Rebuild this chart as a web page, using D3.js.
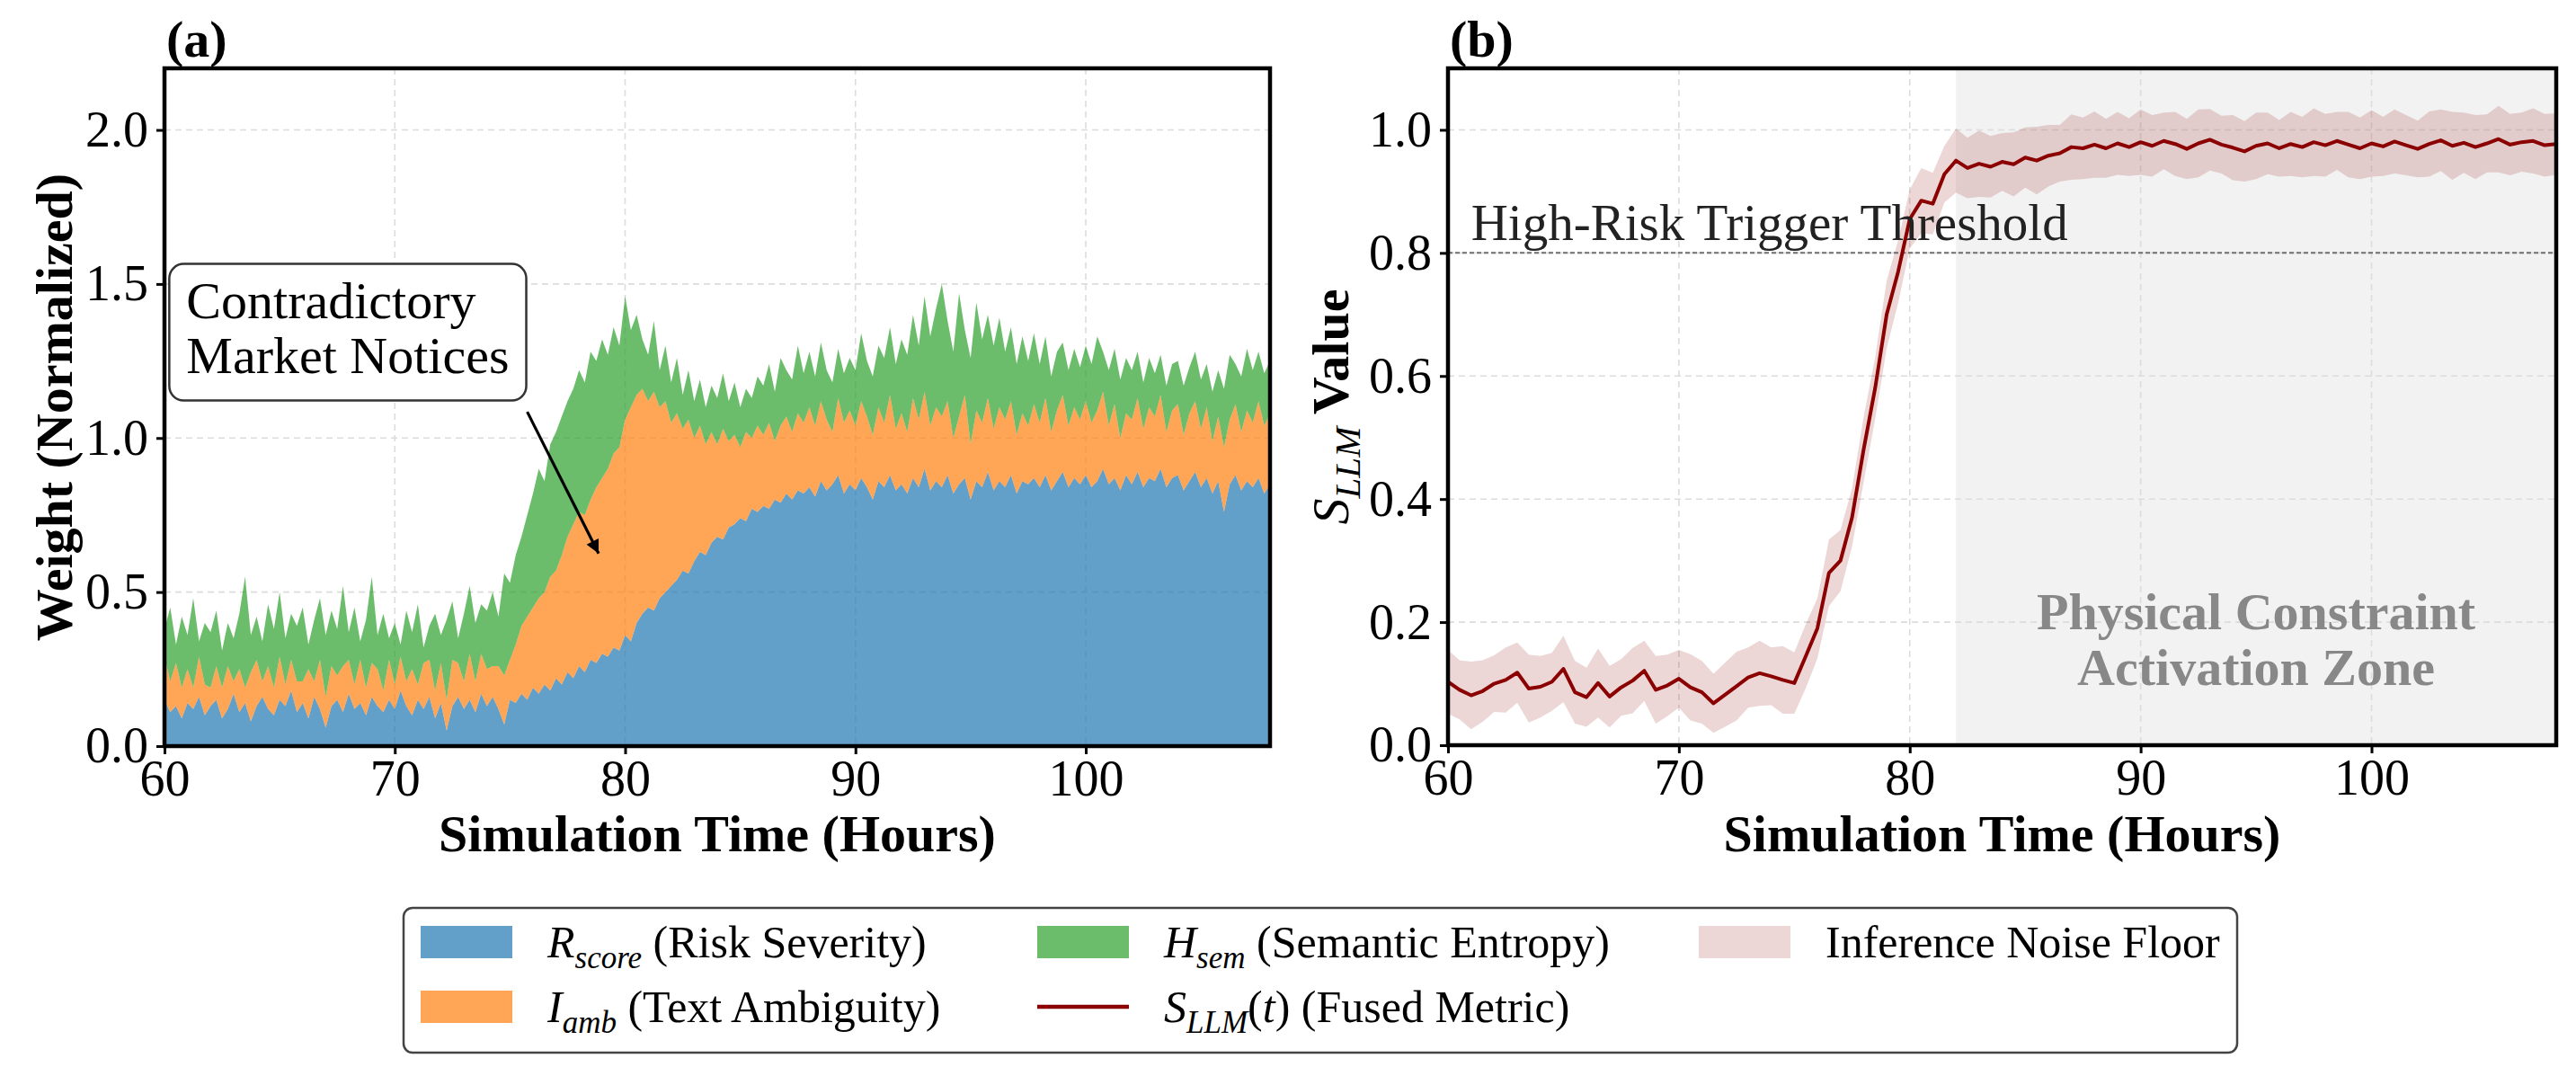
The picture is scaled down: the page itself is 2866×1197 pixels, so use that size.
<!DOCTYPE html>
<html>
<head>
<meta charset="utf-8">
<script src="https://cdn.jsdelivr.net/npm/d3@7"></script>
<style>
  body { margin: 0; background: #fff; }
  svg text { font-family: "Liberation Serif", "Times New Roman", serif; white-space: pre; }
</style>
</head>
<body>
<svg id="fig" width="2866" height="1197"></svg>
<script>
// ---- data ----
// panel (a): sampled every 0.25 h from 60 to 108
const hoursA = d3.range(193).map(i => 60 + i * 0.25);

const riskScore = [
  0.15,0.11,0.13,0.09,0.14,0.12,0.16,0.10,
  0.13,0.15,0.09,0.12,0.17,0.11,0.14,0.08,
  0.13,0.16,0.12,0.10,0.15,0.13,0.18,0.11,
  0.14,0.09,0.16,0.12,0.06,0.13,0.15,0.11,
  0.17,0.12,0.14,0.10,0.16,0.13,0.11,0.15,
  0.12,0.18,0.13,0.10,0.15,0.12,0.16,0.09,
  0.14,0.05,0.13,0.16,0.12,0.15,0.11,0.17,
  0.13,0.16,0.12,0.07,0.15,0.14,0.17,0.15,
  0.19,0.17,0.20,0.18,0.22,0.20,0.24,0.22,
  0.26,0.24,0.28,0.27,0.30,0.29,0.32,0.31,
  0.36,0.34,0.40,0.43,0.45,0.44,0.48,0.50,
  0.52,0.54,0.57,0.56,0.60,0.63,0.62,0.66,
  0.68,0.67,0.71,0.72,0.74,0.73,0.77,0.76,
  0.78,0.77,0.80,0.79,0.82,0.80,0.83,0.82,
  0.84,0.81,0.86,0.83,0.85,0.88,0.82,0.85,
  0.83,0.87,0.84,0.80,0.86,0.84,0.88,0.83,
  0.85,0.82,0.87,0.84,0.90,0.83,0.86,0.84,
  0.88,0.82,0.85,0.87,0.80,0.86,0.84,0.89,
  0.83,0.86,0.84,0.88,0.82,0.86,0.85,0.87,
  0.84,0.88,0.83,0.86,0.89,0.84,0.87,0.85,
  0.88,0.84,0.86,0.90,0.85,0.87,0.83,0.88,
  0.85,0.89,0.84,0.87,0.86,0.90,0.84,0.87,
  0.88,0.83,0.86,0.89,0.84,0.87,0.82,0.86,
  0.76,0.85,0.88,0.83,0.86,0.84,0.87,0.82,
  0.85
];

const textAmbiguity = [
  0.14,0.10,0.14,0.10,0.11,0.07,0.13,0.10,
  0.06,0.11,0.10,0.14,0.04,0.14,0.05,0.16,
  0.15,0.05,0.14,0.09,0.14,0.07,0.10,0.10,
  0.07,0.16,0.05,0.16,0.10,0.13,0.08,0.15,
  0.11,0.08,0.14,0.09,0.11,0.12,0.07,0.13,
  0.08,0.11,0.08,0.15,0.05,0.15,0.12,0.09,
  0.13,0.10,0.15,0.11,0.09,0.15,0.10,0.13,
  0.12,0.10,0.14,0.16,0.13,0.19,0.22,0.27,
  0.26,0.31,0.30,0.37,0.35,0.42,0.44,0.50,
  0.50,0.51,0.52,0.57,0.57,0.61,0.63,0.66,
  0.70,0.76,0.74,0.73,0.67,0.71,0.62,0.62,
  0.53,0.54,0.46,0.50,0.40,0.41,0.36,0.36,
  0.30,0.36,0.28,0.29,0.23,0.29,0.23,0.28,
  0.23,0.28,0.19,0.25,0.25,0.22,0.25,0.23,
  0.26,0.23,0.26,0.23,0.17,0.25,0.23,0.24,
  0.21,0.25,0.23,0.21,0.24,0.21,0.26,0.20,
  0.23,0.20,0.26,0.22,0.25,0.21,0.24,0.23,
  0.24,0.18,0.22,0.27,0.18,0.23,0.21,0.24,
  0.20,0.24,0.22,0.24,0.19,0.22,0.19,0.24,
  0.21,0.25,0.19,0.23,0.25,0.20,0.23,0.21,
  0.24,0.21,0.23,0.25,0.19,0.24,0.17,0.20,
  0.21,0.24,0.19,0.23,0.21,0.24,0.18,0.22,
  0.23,0.18,0.22,0.23,0.19,0.23,0.17,0.21,
  0.21,0.21,0.23,0.19,0.23,0.21,0.25,0.22,
  0.23
];

const semanticEntropy = [
  0.09,0.24,0.06,0.23,0.11,0.29,0.05,0.20,
  0.18,0.18,0.12,0.14,0.14,0.18,0.36,0.12,
  0.14,0.13,0.20,0.19,0.21,0.15,0.15,0.18,
  0.24,0.08,0.20,0.20,0.20,0.18,0.15,0.26,
  0.09,0.25,0.06,0.22,0.28,0.11,0.25,0.07,
  0.20,0.04,0.23,0.12,0.26,0.05,0.11,0.25,
  0.09,0.26,0.19,0.08,0.22,0.22,0.19,0.16,
  0.19,0.24,0.16,0.33,0.25,0.29,0.29,0.33,
  0.37,0.42,0.36,0.43,0.45,0.45,0.44,0.44,
  0.46,0.43,0.48,0.41,0.45,0.37,0.41,0.33,
  0.40,0.25,0.26,0.16,0.15,0.23,0.12,0.18,
  0.13,0.18,0.11,0.16,0.12,0.15,0.12,0.15,
  0.15,0.18,0.13,0.17,0.13,0.14,0.13,0.16,
  0.16,0.19,0.16,0.22,0.15,0.17,0.22,0.16,
  0.18,0.16,0.19,0.16,0.16,0.16,0.16,0.17,
  0.18,0.22,0.18,0.19,0.20,0.21,0.22,0.21,
  0.24,0.25,0.27,0.24,0.31,0.29,0.32,0.43,
  0.26,0.28,0.40,0.21,0.28,0.35,0.27,0.27,
  0.27,0.29,0.22,0.24,0.23,0.25,0.21,0.23,
  0.19,0.20,0.18,0.19,0.17,0.18,0.19,0.17,
  0.18,0.19,0.24,0.13,0.18,0.18,0.19,0.18,
  0.16,0.15,0.15,0.16,0.14,0.13,0.15,0.15,
  0.14,0.16,0.15,0.16,0.16,0.14,0.16,0.15,
  0.19,0.21,0.13,0.18,0.20,0.17,0.16,0.17,
  0.17
];

// panel (b): sampled every 0.5 h from 60 to 108
const hoursB = d3.range(97).map(i => 60 + i * 0.5);

const fusedMetric = [
  0.103,0.090,0.081,0.088,0.100,0.106,0.118,0.092,
  0.095,0.103,0.124,0.086,0.078,0.101,0.079,0.094,
  0.105,0.121,0.090,0.097,0.108,0.094,0.086,0.068,
  0.082,0.096,0.110,0.117,0.112,0.106,0.101,0.145,
  0.190,0.280,0.300,0.370,0.480,0.580,0.700,0.770,
  0.855,0.885,0.880,0.928,0.950,0.938,0.945,0.940,
  0.948,0.944,0.955,0.950,0.958,0.962,0.972,0.970,
  0.976,0.970,0.978,0.972,0.980,0.974,0.982,0.977,
  0.969,0.978,0.984,0.976,0.971,0.965,0.974,0.978,
  0.970,0.977,0.972,0.980,0.975,0.982,0.976,0.970,
  0.978,0.973,0.981,0.975,0.969,0.977,0.983,0.974,
  0.979,0.972,0.978,0.985,0.976,0.980,0.982,0.975,
  0.977
];

const noiseHalfWidth = [
  0.052,0.048,0.055,0.050,0.046,0.053,0.049,0.055,
  0.050,0.047,0.054,0.051,0.048,0.056,0.050,0.046,
  0.053,0.049,0.055,0.050,0.047,0.054,0.051,0.048,
  0.052,0.056,0.049,0.053,0.047,0.055,0.050,0.052,
  0.049,0.054,0.050,0.047,0.053,0.050,0.055,0.051,
  0.048,0.053,0.050,0.046,0.052,0.049,0.054,0.050,
  0.047,0.052,0.049,0.055,0.050,0.046,0.053,0.050,
  0.054,0.048,0.051,0.047,0.053,0.050,0.046,0.052,
  0.049,0.055,0.050,0.047,0.053,0.049,0.054,0.050,
  0.046,0.052,0.049,0.055,0.051,0.047,0.053,0.050,
  0.054,0.048,0.052,0.049,0.046,0.053,0.050,0.055,
  0.049,0.052,0.047,0.054,0.050,0.048,0.053,0.051,
  0.050
];

const xTicks = [60, 70, 80, 90, 100];
const yTicksA = [0, 0.5, 1.0, 1.5, 2.0];
const yTicksB = [0, 0.2, 0.4, 0.6, 0.8, 1.0];
const threshold = 0.8;
const zoneStart = 82;

const layerKeys = ["risk", "amb", "ent"];
const layerColors = { risk: "#1f77b4", amb: "#ff7f0e", ent: "#2ca02c" };
const lineColor = "#8b0000";

// ---- layout ----
const svg = d3.select("#fig");
svg.append("rect").attr("width", 2866).attr("height", 1197).attr("fill", "#fff");

const boxA = { left: 183, right: 1413, top: 76, bottom: 830 };
const boxB = { left: 1611, right: 2844, top: 76, bottom: 829 };
const tickFont = 56, labelFont = 58;

const xA = d3.scaleLinear().domain([60, 108]).range([boxA.left, boxA.right]);
const yA = d3.scaleLinear().domain([0, 2.2]).range([boxA.bottom, boxA.top]);
const xB = d3.scaleLinear().domain([60, 108]).range([boxB.left, boxB.right]);
const yB = d3.scaleLinear().domain([0, 1.1]).range([boxB.bottom, boxB.top]);

const defs = svg.append("defs");
[["clipA", boxA], ["clipB", boxB]].forEach(([id, b]) => {
  defs.append("clipPath").attr("id", id).append("rect")
    .attr("x", b.left).attr("y", b.top).attr("width", b.right - b.left).attr("height", b.bottom - b.top);
});
defs.append("marker").attr("id", "arrowHead")
  .attr("viewBox", "0 0 10 10").attr("refX", 10).attr("refY", 5)
  .attr("markerUnits", "userSpaceOnUse").attr("markerWidth", 30).attr("markerHeight", 15)
  .attr("orient", "auto")
  .append("path").attr("d", "M0,0 L10,5 L0,10 z").attr("fill", "#000");

function grid(g, x, y, b, yt) {
  g.selectAll(".gx").data(xTicks).join("line").attr("class", "gx")
    .attr("x1", d => x(d)).attr("x2", d => x(d)).attr("y1", b.top).attr("y2", b.bottom);
  g.selectAll(".gy").data(yt).join("line").attr("class", "gy")
    .attr("x1", b.left).attr("x2", b.right).attr("y1", d => y(d)).attr("y2", d => y(d));
  g.selectAll("line").attr("stroke", "#dcdcdc").attr("stroke-width", 1.6).attr("stroke-dasharray", "7,5");
}

function axes(x, y, b, yt) {
  const gx = svg.append("g").attr("transform", `translate(0,${b.bottom})`)
    .call(d3.axisBottom(x).tickValues(xTicks).tickFormat(d3.format("d")).tickSize(9).tickPadding(6));
  const gy = svg.append("g").attr("transform", `translate(${b.left},0)`)
    .call(d3.axisLeft(y).tickValues(yt).tickFormat(d3.format(".1f")).tickSize(9).tickPadding(9));
  [gx, gy].forEach(g => {
    g.select(".domain").remove();
    g.selectAll(".tick line").attr("stroke", "#000").attr("stroke-width", 3);
    g.selectAll(".tick text").attr("font-size", tickFont).attr("fill", "#000")
      .style("font-family", '"Liberation Serif", "Times New Roman", serif');
  });
  svg.append("rect").attr("x", b.left).attr("y", b.top)
    .attr("width", b.right - b.left).attr("height", b.bottom - b.top)
    .attr("fill", "none").attr("stroke", "#000").attr("stroke-width", 4.5);
}

// ---- panel (a) ----
grid(svg.append("g"), xA, yA, boxA, yTicksA);

const rowsA = hoursA.map((t, k) => ({ t, risk: riskScore[k], amb: textAmbiguity[k], ent: semanticEntropy[k] }));
const stacked = d3.stack().keys(layerKeys)(rowsA);
const areaA = d3.area().x(d => xA(d.data.t)).y0(d => yA(d[0])).y1(d => yA(d[1]));
svg.append("g").attr("clip-path", "url(#clipA)")
  .selectAll("path").data(stacked).join("path")
  .attr("d", areaA).attr("fill", d => layerColors[d.key]).attr("fill-opacity", 0.7);

axes(xA, yA, boxA, yTicksA);

// annotation
const noteX = xA(60.95), noteY = yA(1.39);
const note = svg.append("g");
const noteText = note.append("text").attr("font-size", 58).attr("fill", "#000");
noteText.append("tspan").attr("x", noteX).attr("y", noteY).text("Contradictory");
noteText.append("tspan").attr("x", noteX).attr("dy", 61).text("Market Notices");
const nb = noteText.node().getBBox();
note.insert("rect", "text")
  .attr("x", nb.x - 19).attr("y", nb.y - 8).attr("width", nb.width + 38).attr("height", nb.height + 26)
  .attr("rx", 16).attr("fill", "#fff").attr("stroke", "#333").attr("stroke-width", 2.5);
svg.append("line")
  .attr("x1", xA(75.75)).attr("y1", yA(1.085)).attr("x2", xA(78.85)).attr("y2", yA(0.625))
  .attr("stroke", "#000").attr("stroke-width", 3.2).attr("marker-end", "url(#arrowHead)");

svg.append("text").attr("x", boxA.left + 2).attr("y", 63)
  .attr("font-size", labelFont).attr("font-weight", "bold").text("(a)");
svg.append("text").attr("x", (boxA.left + boxA.right) / 2).attr("y", 947)
  .attr("text-anchor", "middle").attr("font-size", labelFont).attr("font-weight", "bold")
  .text("Simulation Time (Hours)");
svg.append("text").attr("transform", `translate(80,${(boxA.top + boxA.bottom) / 2}) rotate(-90)`)
  .attr("text-anchor", "middle").attr("font-size", labelFont).attr("font-weight", "bold")
  .text("Weight (Normalized)");

// ---- panel (b) ----
svg.append("rect").attr("x", xB(zoneStart)).attr("y", boxB.top)
  .attr("width", xB(108) - xB(zoneStart)).attr("height", boxB.bottom - boxB.top)
  .attr("fill", "#808080").attr("fill-opacity", 0.1);

grid(svg.append("g"), xB, yB, boxB, yTicksB);

const rowsB = hoursB.map((t, k) => ({ t, v: fusedMetric[k], hw: noiseHalfWidth[k] }));
const plotB = svg.append("g").attr("clip-path", "url(#clipB)");
plotB.append("path").datum(rowsB)
  .attr("d", d3.area().x(d => xB(d.t)).y0(d => yB(d.v - d.hw)).y1(d => yB(d.v + d.hw)))
  .attr("fill", lineColor).attr("fill-opacity", 0.16);
plotB.append("line")
  .attr("x1", xB(60)).attr("x2", xB(108)).attr("y1", yB(threshold)).attr("y2", yB(threshold))
  .attr("stroke", "#6f6f6f").attr("stroke-width", 2).attr("stroke-dasharray", "5,3");
plotB.append("path").datum(rowsB)
  .attr("d", d3.line().x(d => xB(d.t)).y(d => yB(d.v)))
  .attr("fill", "none").attr("stroke", lineColor).attr("stroke-width", 4).attr("stroke-linejoin", "round");

svg.append("text").attr("x", xB(61)).attr("y", yB(0.821))
  .attr("font-size", 57).attr("fill", "#222").text("High-Risk Trigger Threshold");
const zoneLabel = svg.append("text").attr("text-anchor", "middle")
  .attr("font-size", labelFont).attr("font-weight", "bold").attr("fill", "#888");
zoneLabel.append("tspan").attr("x", xB(95)).attr("y", yB(0.188)).text("Physical Constraint");
zoneLabel.append("tspan").attr("x", xB(95)).attr("y", yB(0.098)).text("Activation Zone");

axes(xB, yB, boxB, yTicksB);

svg.append("text").attr("x", boxB.left + 2).attr("y", 63)
  .attr("font-size", labelFont).attr("font-weight", "bold").text("(b)");
svg.append("text").attr("x", (boxB.left + boxB.right) / 2).attr("y", 947)
  .attr("text-anchor", "middle").attr("font-size", labelFont).attr("font-weight", "bold")
  .text("Simulation Time (Hours)");
const yLabB = svg.append("text")
  .attr("transform", `translate(1500,${(boxB.top + boxB.bottom) / 2}) rotate(-90)`)
  .attr("text-anchor", "middle").attr("font-size", labelFont);
yLabB.append("tspan").attr("font-style", "italic").text("S");
yLabB.append("tspan").attr("font-style", "italic").attr("font-size", 41).attr("dy", 13).text("LLM");
yLabB.append("tspan").attr("font-weight", "bold").attr("dy", -13).text(" Value");

// ---- legend ----
const legendItems = [
  { col: 0, row: 0, kind: "patch", color: layerColors.risk, op: 0.7, main: "R", sub: "score", rest: [[" (Risk Severity)", false]] },
  { col: 0, row: 1, kind: "patch", color: layerColors.amb, op: 0.7, main: "I", sub: "amb", rest: [[" (Text Ambiguity)", false]] },
  { col: 1, row: 0, kind: "patch", color: layerColors.ent, op: 0.7, main: "H", sub: "sem", rest: [[" (Semantic Entropy)", false]] },
  { col: 1, row: 1, kind: "line", color: lineColor, op: 1, main: "S", sub: "LLM", rest: [["(", false], ["t", true], [") (Fused Metric)", false]] },
  { col: 2, row: 0, kind: "patch", color: lineColor, op: 0.16, main: "", sub: "", rest: [["Inference Noise Floor", false]] }
];
const legX = 449, legY = 1010, legW = 2040, legH = 161;
const colX = [468, 1154, 1890], rowY = [1048, 1120];
const legFont = 50;

const leg = svg.append("g");
leg.append("rect").attr("x", legX).attr("y", legY).attr("width", legW).attr("height", legH)
  .attr("rx", 10).attr("fill", "#fff").attr("stroke", "#444").attr("stroke-width", 2.5);

legendItems.forEach(it => {
  const x0 = colX[it.col], yc = rowY[it.row];
  if (it.kind === "patch") {
    leg.append("rect").attr("x", x0).attr("y", yc - 18).attr("width", 102).attr("height", 36)
      .attr("fill", it.color).attr("fill-opacity", it.op);
  } else {
    leg.append("line").attr("x1", x0).attr("x2", x0 + 102).attr("y1", yc).attr("y2", yc)
      .attr("stroke", it.color).attr("stroke-width", 4.5);
  }
  const t = leg.append("text").attr("x", x0 + 141).attr("y", yc + 17).attr("font-size", legFont);
  if (it.main) {
    t.append("tspan").attr("font-style", "italic").text(it.main);
    t.append("tspan").attr("font-style", "italic").attr("font-size", 35).attr("dy", 12).text(it.sub);
  }
  it.rest.forEach(([s, ital], k) => {
    const sp = t.append("tspan").text(s);
    if (ital) sp.attr("font-style", "italic");
    if (k === 0 && it.main) sp.attr("dy", -12);
  });
});
</script>
</body>
</html>
